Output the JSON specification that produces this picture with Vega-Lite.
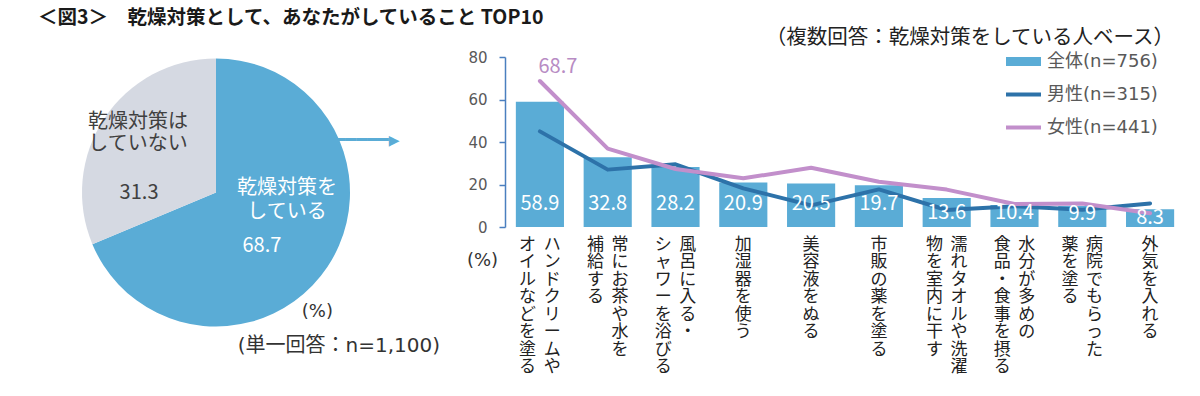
{
  "$schema": "https://vega.github.io/schema/vega-lite/v6.json",
  "background": "white",
  "padding": {"left": 38, "top": 7, "right": 5, "bottom": 5},
  "bounds": "flush",
  "spacing": 155,
  "resolve": {"scale": {"color": "independent"}, "legend": {"color": "independent"}},
  "config": {
    "view": {"stroke": null},
    "font": "Noto Sans CJK JP",
    "title": {"font": "Noto Sans CJK JP"},
    "axis": {"labelFont": "Noto Sans CJK JP", "titleFont": "Noto Sans CJK JP"},
    "legend": {"labelFont": "DejaVu Sans, Noto Sans CJK JP"}
  },
  "title": {
    "text": "＜図3＞　乾燥対策として、あなたがしていること TOP10",
    "anchor": "start",
    "frame": "group",
    "dx": -44,
    "offset": 0,
    "fontSize": 19.5,
    "fontWeight": "bold",
    "color": "#1a1a1a"
  },
  "datasets": {
    "pie": [
      {"answer": "乾燥対策を\nしている", "value": 68.7},
      {"answer": "乾燥対策は\nしていない", "value": 31.3}
    ],
    "bars": [
      {"item": "ハンドクリームや\nオイルなどを塗る", "series": "全体(n=756)", "value": 58.9},
      {"item": "常にお茶や水を\n補給する", "series": "全体(n=756)", "value": 32.8},
      {"item": "風呂に入る・\nシャワーを浴びる", "series": "全体(n=756)", "value": 28.2},
      {"item": "加湿器を使う", "series": "全体(n=756)", "value": 20.9},
      {"item": "美容液をぬる", "series": "全体(n=756)", "value": 20.5},
      {"item": "市販の薬を塗る", "series": "全体(n=756)", "value": 19.7},
      {"item": "濡れタオルや洗濯\n物を室内に干す", "series": "全体(n=756)", "value": 13.6},
      {"item": "水分が多めの\n食品・食事を摂る", "series": "全体(n=756)", "value": 10.4},
      {"item": "病院でもらった\n薬を塗る", "series": "全体(n=756)", "value": 9.9},
      {"item": "外気を入れる", "series": "全体(n=756)", "value": 8.3},
      {"item": "ハンドクリームや\nオイルなどを塗る", "series": "男性(n=315)", "value": 45.0},
      {"item": "常にお茶や水を\n補給する", "series": "男性(n=315)", "value": 27.0},
      {"item": "風呂に入る・\nシャワーを浴びる", "series": "男性(n=315)", "value": 29.5},
      {"item": "加湿器を使う", "series": "男性(n=315)", "value": 18.2},
      {"item": "美容液をぬる", "series": "男性(n=315)", "value": 10.2},
      {"item": "市販の薬を塗る", "series": "男性(n=315)", "value": 17.7},
      {"item": "濡れタオルや洗濯\n物を室内に干す", "series": "男性(n=315)", "value": 8.0},
      {"item": "水分が多めの\n食品・食事を摂る", "series": "男性(n=315)", "value": 9.8},
      {"item": "病院でもらった\n薬を塗る", "series": "男性(n=315)", "value": 8.1},
      {"item": "外気を入れる", "series": "男性(n=315)", "value": 11.1},
      {"item": "ハンドクリームや\nオイルなどを塗る", "series": "女性(n=441)", "value": 68.7},
      {"item": "常にお茶や水を\n補給する", "series": "女性(n=441)", "value": 36.9},
      {"item": "風呂に入る・\nシャワーを浴びる", "series": "女性(n=441)", "value": 27.3},
      {"item": "加湿器を使う", "series": "女性(n=441)", "value": 22.9},
      {"item": "美容液をぬる", "series": "女性(n=441)", "value": 27.9},
      {"item": "市販の薬を塗る", "series": "女性(n=441)", "value": 21.3},
      {"item": "濡れタオルや洗濯\n物を室内に干す", "series": "女性(n=441)", "value": 17.6},
      {"item": "水分が多めの\n食品・食事を摂る", "series": "女性(n=441)", "value": 10.8},
      {"item": "病院でもらった\n薬を塗る", "series": "女性(n=441)", "value": 11.1},
      {"item": "外気を入れる", "series": "女性(n=441)", "value": 6.5}
    ]
  },
  "hconcat": [
    {
      "width": 268,
      "height": 271,
      "data": {"name": "pie"},
      "layer": [
        {
          "mark": {"type": "arc", "outerRadius": 134},
          "encoding": {
            "theta": {"field": "value", "type": "quantitative", "stack": true},
            "order": {"field": "value", "type": "quantitative", "sort": "descending"},
            "color": {"field": "answer", "type": "nominal", "scale": {"domain": ["乾燥対策を\nしている", "乾燥対策は\nしていない"], "range": ["#5AACD6", "#D5D9E2"]}, "legend": null}
          }
        },
        {
          "mark": {"type": "text", "radius": 60, "dx": 21, "dy": -38, "fontSize": 20, "lineHeight": 24, "lineBreak": "\n", "color": "white", "baseline": "middle"},
          "encoding": {
            "theta": {"field": "value", "type": "quantitative", "stack": true},
            "order": {"field": "value", "type": "quantitative", "sort": "descending"},
            "text": {"condition": {"test": "datum.value > 50", "field": "answer", "type": "nominal"}, "value": ""}
          }
        },
        {
          "mark": {"type": "text", "radius": 60, "dx": -4, "dy": 20, "fontSize": 20, "color": "white", "baseline": "middle"},
          "encoding": {
            "theta": {"field": "value", "type": "quantitative", "stack": true},
            "order": {"field": "value", "type": "quantitative", "sort": "descending"},
            "text": {"condition": {"test": "datum.value > 50", "field": "value", "type": "quantitative", "format": ".1f"}, "value": ""}
          }
        },
        {
          "mark": {"type": "text", "radius": 60, "dx": -28, "dy": -37, "fontSize": 20, "lineHeight": 22, "lineBreak": "\n", "color": "#404040", "baseline": "middle"},
          "encoding": {
            "theta": {"field": "value", "type": "quantitative", "stack": true},
            "order": {"field": "value", "type": "quantitative", "sort": "descending"},
            "text": {"condition": {"test": "datum.value < 50", "field": "answer", "type": "nominal"}, "value": ""}
          }
        },
        {
          "mark": {"type": "text", "radius": 60, "dx": -27, "dy": 34, "fontSize": 20, "color": "#404040", "baseline": "middle"},
          "encoding": {
            "theta": {"field": "value", "type": "quantitative", "stack": true},
            "order": {"field": "value", "type": "quantitative", "sort": "descending"},
            "text": {"condition": {"test": "datum.value < 50", "field": "value", "type": "quantitative", "format": ".1f"}, "value": ""}
          }
        },
        {
          "transform": [{"filter": "datum.value > 50"}],
          "mark": {"type": "text", "text": "━━━━━▶", "font": "DejaVu Sans Mono", "fontSize": 18, "dx": 151, "dy": -52, "color": "#5AACD6", "baseline": "middle"},
          "encoding": {}
        },
        {
          "transform": [{"filter": "datum.value > 50"}],
          "mark": {"type": "text", "text": "(%)", "font": "DejaVu Sans, Noto Sans CJK JP", "fontSize": 18, "dx": 117, "dy": 119, "align": "right", "color": "#333333", "baseline": "middle"},
          "encoding": {}
        },
        {
          "transform": [{"filter": "datum.value > 50"}],
          "mark": {"type": "text", "text": "(単一回答：n=1,100)", "font": "DejaVu Sans, Noto Sans CJK JP", "fontSize": 20, "dx": 224, "dy": 153, "align": "right", "color": "#333333", "baseline": "middle"},
          "encoding": {}
        }
      ]
    },
    {
      "width": 680,
      "height": 170,
      "title": {
        "text": "（複数回答：乾燥対策をしている人ベース）",
        "anchor": "end",
        "frame": "group",
        "dx": -11,
        "offset": 1.5,
        "fontSize": 20.5,
        "fontWeight": "normal",
        "color": "#222222"
      },
      "data": {"name": "bars"},
      "encoding": {
        "x": {
          "field": "item",
          "type": "nominal",
          "sort": ["ハンドクリームや\nオイルなどを塗る", "常にお茶や水を\n補給する", "風呂に入る・\nシャワーを浴びる", "加湿器を使う", "美容液をぬる", "市販の薬を塗る", "濡れタオルや洗濯\n物を室内に干す", "水分が多めの\n食品・食事を摂る", "病院でもらった\n薬を塗る", "外気を入れる"],
          "scale": {"paddingInner": 0.29, "paddingOuter": 0.16},
          "axis": {
            "title": null,
            "domain": false,
            "ticks": false,
            "labelAngle": 0,
            "labelFontSize": 17,
            "labelLineHeight": 17.5,
            "labelBaseline": "top",
            "labelAlign": "center",
            "labelPadding": 9,
            "labelColor": "#222222",
            "labelOverlap": false,
            "labelBound": false,
            "labelLimit": 0,
            "labelExpr": "[(length(split(datum.value,'\\n'))>1?'\u200b'+(split(datum.value,'\\n')[1][0]||'　')+'\u00a0\u00a0'+(split(datum.value,'\\n')[0][0]||'　')+'\u200b':(split(datum.value,'\\n')[0][0]||'')),(length(split(datum.value,'\\n'))>1?'\u200b'+(split(datum.value,'\\n')[1][1]||'　')+'\u00a0\u00a0'+(split(datum.value,'\\n')[0][1]||'　')+'\u200b':(split(datum.value,'\\n')[0][1]||'')),(length(split(datum.value,'\\n'))>1?'\u200b'+(split(datum.value,'\\n')[1][2]||'　')+'\u00a0\u00a0'+(split(datum.value,'\\n')[0][2]||'　')+'\u200b':(split(datum.value,'\\n')[0][2]||'')),(length(split(datum.value,'\\n'))>1?'\u200b'+(split(datum.value,'\\n')[1][3]||'　')+'\u00a0\u00a0'+(split(datum.value,'\\n')[0][3]||'　')+'\u200b':(split(datum.value,'\\n')[0][3]||'')),(length(split(datum.value,'\\n'))>1?'\u200b'+(split(datum.value,'\\n')[1][4]||'　')+'\u00a0\u00a0'+(split(datum.value,'\\n')[0][4]||'　')+'\u200b':(split(datum.value,'\\n')[0][4]||'')),(length(split(datum.value,'\\n'))>1?'\u200b'+(split(datum.value,'\\n')[1][5]||'　')+'\u00a0\u00a0'+(split(datum.value,'\\n')[0][5]||'　')+'\u200b':(split(datum.value,'\\n')[0][5]||'')),(length(split(datum.value,'\\n'))>1?'\u200b'+(split(datum.value,'\\n')[1][6]||'　')+'\u00a0\u00a0'+(split(datum.value,'\\n')[0][6]||'　')+'\u200b':(split(datum.value,'\\n')[0][6]||'')),(length(split(datum.value,'\\n'))>1?'\u200b'+(split(datum.value,'\\n')[1][7]||'　')+'\u00a0\u00a0'+(split(datum.value,'\\n')[0][7]||'　')+'\u200b':(split(datum.value,'\\n')[0][7]||''))]"
          }
        },
        "y": {
          "field": "value",
          "type": "quantitative",
          "scale": {"domain": [0, 80]},
          "axis": {
            "values": [0, 20, 40, 60, 80],
            "grid": false,
            "domainColor": "#4A7FBF",
            "domainWidth": 1.5,
            "tickColor": "#4A7FBF",
            "tickWidth": 1.5,
            "tickSize": 6,
            "labelFont": "DejaVu Sans",
            "labelFontSize": 15,
            "labelColor": "#595959",
            "labelPadding": 12,
            "title": "(%)",
            "titleFont": "DejaVu Sans",
            "titleAngle": 0,
            "titleX": -23,
            "titleY": 203,
            "titleAlign": "center",
            "titleBaseline": "middle",
            "titleFontSize": 18,
            "titleFontWeight": "normal",
            "titleColor": "#333333"
          }
        }
      },
      "layer": [
        {
          "transform": [{"filter": "datum.series === '全体(n=756)'"}],
          "mark": {"type": "bar"},
          "encoding": {
            "color": {
              "field": "series",
              "type": "nominal",
              "scale": {"domain": ["全体(n=756)", "男性(n=315)", "女性(n=441)"], "range": ["#5AACD6", "#2D72A9", "#C28FCB"]},
              "legend": {
                "orient": "none",
                "legendX": 497,
                "legendY": -4.5,
                "title": null,
                "padding": 0,
                "labelFontSize": 18,
                "labelColor": "#595959",
                "labelOffset": 27,
                "rowPadding": 15,
                "symbolSize": 100,
                "symbolType": "M-1,-0.9H6V0.9H-1Z",
                "symbolStrokeWidth": 0,
                "encode": {
                  "symbols": {
                    "update": {
                      "shape": {"signal": "datum.value === '全体(n=756)' ? 'M-1,-0.9H6V0.9H-1Z' : 'M-1,-0.4H6V0.4H-1Z'"},
                      "fill": {"scale": "color", "field": "value"},
                      "stroke": {"value": "transparent"},
                      "opacity": {"value": 1}
                    }
                  }
                }
              }
            }
          }
        },
        {
          "transform": [{"filter": "datum.series !== '全体(n=756)'"}],
          "mark": {"type": "line", "strokeWidth": 4, "strokeCap": "round", "strokeJoin": "round"},
          "encoding": {
            "color": {"field": "series", "type": "nominal"}
          }
        },
        {
          "transform": [{"filter": "datum.series === '全体(n=756)' && datum.value >= 15"}],
          "mark": {"type": "text", "color": "white", "fontSize": 20, "dy": -23, "baseline": "middle"},
          "encoding": {
            "y": {"datum": 0},
            "text": {"field": "value", "type": "quantitative", "format": ".1f"}
          }
        },
        {
          "transform": [{"filter": "datum.series === '全体(n=756)' && datum.value >= 10 && datum.value < 15"}],
          "mark": {"type": "text", "color": "white", "fontSize": 20, "dy": -14, "baseline": "middle"},
          "encoding": {
            "y": {"datum": 0},
            "text": {"field": "value", "type": "quantitative", "format": ".1f"}
          }
        },
        {
          "transform": [{"filter": "datum.series === '全体(n=756)' && datum.value < 10"}],
          "mark": {"type": "text", "color": "white", "fontSize": 20, "dy": 8.5, "baseline": "middle"},
          "encoding": {
            "text": {"field": "value", "type": "quantitative", "format": ".1f"}
          }
        },
        {
          "transform": [{"filter": "datum.series === '女性(n=441)' && datum.value > 60"}],
          "mark": {"type": "text", "color": "#B88CC4", "fontSize": 20, "dx": 18, "dy": -14, "baseline": "middle"},
          "encoding": {
            "text": {"field": "value", "type": "quantitative", "format": ".1f"}
          }
        }
      ]
    }
  ]
}
